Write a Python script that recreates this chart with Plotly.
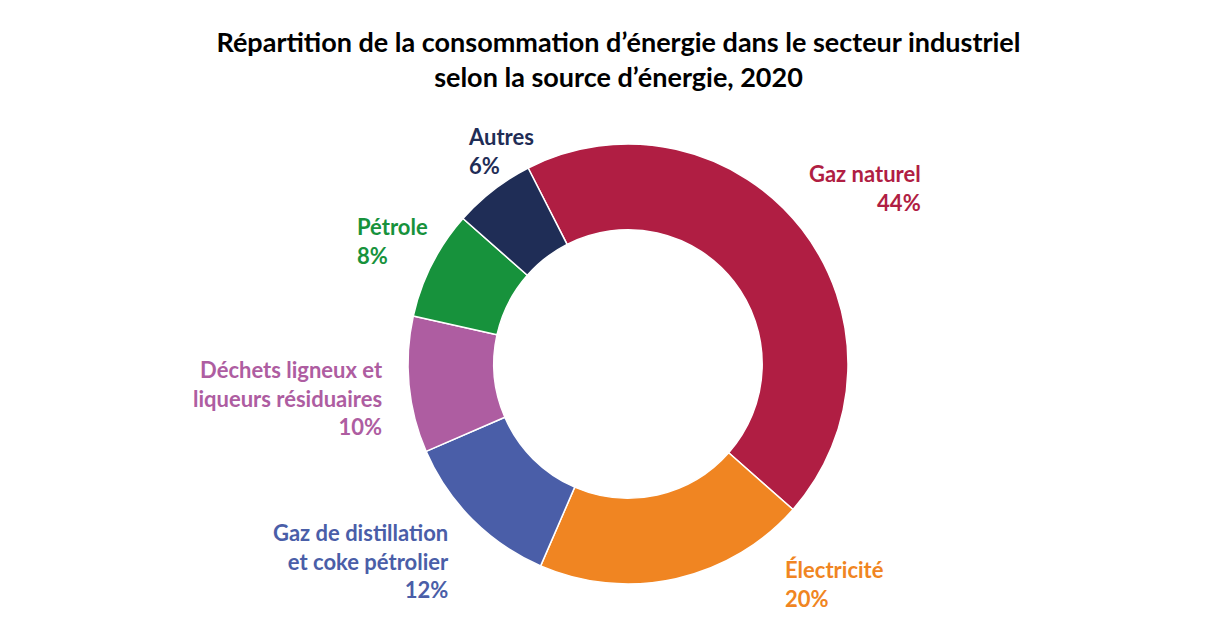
import plotly.graph_objects as go

labels = ["Gaz naturel", "Électricité", "Gaz de distillation<br>et coke pétrolier",
          "Déchets ligneux et<br>liqueurs résiduaires", "Pétrole", "Autres"]
values = [44, 20, 12, 10, 8, 6]
colors = ["#B01E43", "#F08522", "#4A5EA8", "#AE5DA1", "#17923C", "#1F2D56"]

W, H = 1221, 621
fig = go.Figure(go.Pie(
    labels=labels, values=values, hole=0.61, sort=False, direction="clockwise",
    rotation=-27, textinfo="none", hoverinfo="label+percent",
    marker=dict(colors=colors, line=dict(color="white", width=1.5)),
    domain=dict(x=[(620 - 220) / W, (840) / W], y=[37 / H, 493 / H]),
    showlegend=False))

pos = [(915, 180, "right"), (775, 576, "left"), (443, 553, "right"),
       (377, 390, "right"), (347, 233, "left"), (458, 143, "left")]
for lab, v, c, (px, py, al) in zip(labels, values, colors, pos):
    fig.add_annotation(x=px / W, y=1 - py / H, xref="paper", yref="paper",
                       text=f"<b>{lab}<br>{v}%</b>", showarrow=False,
                       xanchor=al, yanchor="middle", align=al,
                       font=dict(family="Lato", size=22, color=c))

fig.update_layout(
    width=W, height=H, margin=dict(l=0, r=0, t=0, b=0),
    paper_bgcolor="white", plot_bgcolor="white",
    title=dict(text="<b>Répartition de la consommation d’énergie dans le secteur industriel<br>selon la source d’énergie, 2020</b>",
               x=0.5, xanchor="center", y=1 - 44 / H, yanchor="middle",
               font=dict(family="Lato", size=27, color="black")))
fig.write_html("out.html")
